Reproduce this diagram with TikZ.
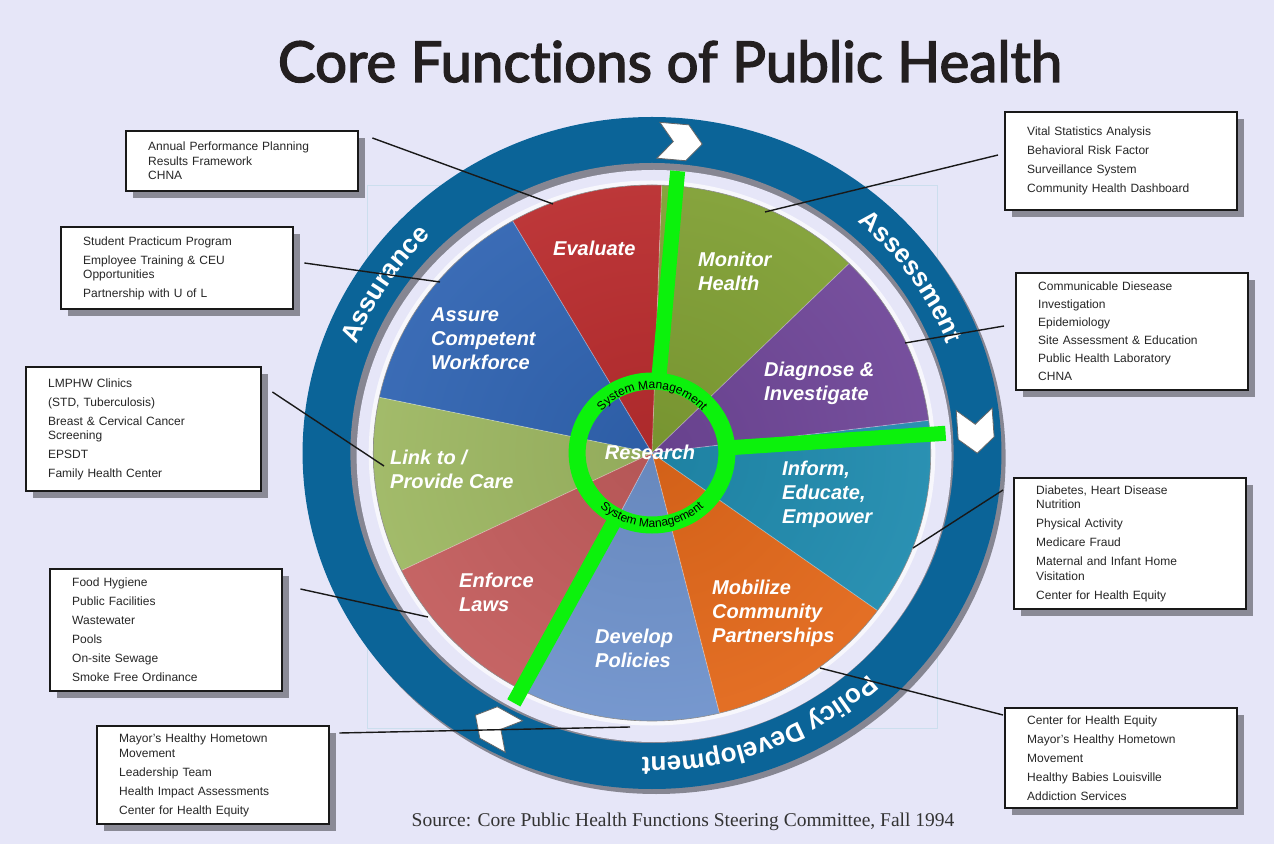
\documentclass[tikz,border=0pt]{standalone}
\usepackage{fontspec}
\setmainfont{Liberation Sans}
\newfontfamily\titlefont[Ligatures=CommonOff,FakeBold=2.5]{Lato}
\newfontfamily\sourcefont{Liberation Serif}
\usetikzlibrary{shadows, decorations.text, positioning, calc}

\definecolor{bgback}{RGB}{230,230,248}
\definecolor{ringblue}{RGB}{11,100,152}
\definecolor{ringgray}{RGB}{134,134,146}
\definecolor{spokegreen}{RGB}{12,242,12}
\definecolor{evalred}{RGB}{200,48,50}
\definecolor{monitorgreen}{RGB}{138,172,56}
\definecolor{diagpurple}{RGB}{120,76,164}
\definecolor{informteal}{RGB}{34,150,188}
\definecolor{mobilorange}{RGB}{244,112,28}
\definecolor{developblue}{RGB}{120,158,220}
\definecolor{enforcered}{RGB}{210,100,100}
\definecolor{linkgreen}{RGB}{170,198,106}
\definecolor{assureblue}{RGB}{52,108,192}
\definecolor{boxshadow}{RGB}{138,138,150}
\definecolor{frameblue}{RGB}{204,222,238}
\definecolor{titleink}{RGB}{35,31,32}

\colorlet{wedge in}{black}
\colorlet{wedge out}{white}
\pgfdeclareradialshading[wedge in,wedge out]{wedgeshade}{\pgfpoint{0bp}{0bp}}{color(0bp)=(wedge in); color(50bp)=(wedge out)}

\newcommand\boxfont{\fontsize{12}{14.5}\selectfont}
\newcommand\wedgefont{\bfseries\itshape\fontsize{20}{24}\selectfont}
\newcommand\ringstyle{\bfseries\fontsize{26}{26}\selectfont}
\newcommand\sysfont{\fontsize{12}{12}\selectfont}

\begin{document}
\begin{tikzpicture}[x=1pt,y=1pt,
  infobox/.style={draw=black!90,line width=2.4pt,fill=white,rectangle,anchor=north west,text width=188pt,inner xsep=22pt,inner ysep=0pt,align=left,font=\boxfont,text=black!85,drop shadow={shadow xshift=7pt,shadow yshift=-7pt,fill=boxshadow,opacity=1}},
  wedgelabel/.style={anchor=west,align=left,inner sep=0pt,text=white,font=\wedgefont},
  link/.style={draw=black!90,line width=1.4pt},
  ringlabel/.style={decorate,decoration={text along path,text align=center,text color=white,text={|\ringstyle|#1}}},
  syslabel/.style={decorate,decoration={text along path,text align=center,text color=black,text={|\sysfont|#1}}},
  ringarrow/.pic={\draw[fill=white,draw=black!60,line width=0.8pt] (-22,-18) -- (7,-18) -- (22,0) -- (7,18) -- (-22,18) -- (-7,0) -- cycle;}]
  \useasboundingbox (0,0) rectangle (1274,844);
  \fill[bgback] (0,0) rectangle (1274,844);
  \draw[frameblue,line width=0.7pt] (367,116) rectangle (937,659);

  % wheel
  \begin{scope}[shift={(652,391)},xscale=1.04]
    \fill[ringgray] (4,-5) circle[radius=336];
    \fill[ringblue] (0,0) circle[radius=336];
    \fill[ringgray] (0,0) circle[radius=290];
    \fill[bgback] (2,-3) circle[radius=286];
    \draw[white,line width=5pt,opacity=0.7] (0,0) circle[radius=270];
    \foreach \a/\b/\col in {45/88/monitorgreen,88/120/evalred,120/168/assureblue,168/206/linkgreen,206/243/enforcered,243/284/developblue,284/324/mobilorange,324/367/informteal,7/45/diagpurple}{
      \colorlet{wedge in}{\col!86!black}
      \colorlet{wedge out}{\col!90!white}
      \begin{scope}
        \clip (0,0) -- (\a:268) arc[start angle=\a,end angle=\b,radius=268] -- cycle;
        \shade[shading=wedgeshade] (0,0) circle[radius=268];
      \end{scope}
    }
    \foreach \a in {7,45,88,120,168,206,243,284,324}
      \draw[white,opacity=0.35,line width=0.8pt] (0,0) -- (\a:268);
    \draw[black!45,line width=0.6pt] (0,0) circle[radius=268];
    \foreach \t in {85,4,242}
      \draw[spokegreen,line width=15pt] (\t:78) -- (\t:283);
    \draw[spokegreen,line width=17pt] (0,0) circle[radius=72];
    \foreach \t in {85,4,241}
      \pic[rotate=\t-90] at (\t:312) {ringarrow};
    \path[ringlabel=Assurance] (177:304) arc[start angle=177,end angle=117,radius=304];
    \path[ringlabel=Assessment] (65:304) arc[start angle=65,end angle=5,radius=304];
    \path[ringlabel=Policy Development] (-20:304) arc[start angle=-20,end angle=-118,radius=304];
    \path[syslabel=System Management] (165:64) arc[start angle=165,end angle=15,radius=64];
    \path[syslabel=System Management] (195:74) arc[start angle=195,end angle=345,radius=74];
  \end{scope}

  \node[wedgelabel] (evaluate) at (553,596) {Evaluate};
  \node[wedgelabel] (monitor) at (698,573) {Monitor\\Health};
  \node[wedgelabel] (diagnose) at (764,461) {Diagnose \&\\Investigate};
  \node[wedgelabel] (inform) at (782,350) {Inform,\\Educate,\\Empower};
  \node[wedgelabel] (mobilize) at (712,231) {Mobilize\\Community\\Partnerships};
  \node[wedgelabel] (develop) at (595,196) {Develop\\Policies};
  \node[wedgelabel] (enforce) at (459,252) {Enforce\\Laws};
  \node[wedgelabel] (linkcare) at (390,375) {Link to /\\Provide Care};
  \node[wedgelabel] (assure) at (431,505) {Assure\\Competent\\Workforce};
  \node[text=white,font=\wedgefont] (research) at (650,392) {Research};

  \node[infobox,minimum height=60pt] (evalbox) at (125,714) {Annual Performance Planning\\Results Framework\\CHNA};
  \node[infobox,minimum height=82pt] (assurebox) at (60,618) {Student Practicum Program\\[4.5pt]Employee Training \& CEU\\Opportunities\\[4.5pt]Partnership with U of L};
  \node[infobox,minimum height=124pt,text width=191pt] (linkbox) at (25,478) {LMPHW Clinics\\[4.5pt](STD, Tuberculosis)\\[4.5pt]Breast \& Cervical Cancer\\Screening\\[4.5pt]EPSDT\\[4.5pt]Family Health Center};
  \node[infobox,minimum height=122pt] (enforcebox) at (49,276) {Food Hygiene\\[4.5pt]Public Facilities\\[4.5pt]Wastewater\\[4.5pt]Pools\\[4.5pt]On-site Sewage\\[4.5pt]Smoke Free Ordinance};
  \node[infobox,minimum height=98pt] (developbox) at (96,119) {Mayor's Healthy Hometown\\Movement\\[4.5pt]Leadership Team\\[4.5pt]Health Impact Assessments\\[4.5pt]Center for Health Equity};
  \node[infobox,minimum height=98pt] (monitorbox) at (1004,733) {Vital Statistics Analysis\\[4.5pt]Behavioral Risk Factor\\[4.5pt]Surveillance System\\[4.5pt]Community Health Dashboard};
  \node[infobox,minimum height=117pt] (diagbox) at (1015,572) {Communicable Diesease\\[3.5pt]Investigation\\[3.5pt]Epidemiology\\[3.5pt]Site Assessment \& Education\\[3.5pt]Public Health Laboratory\\[3.5pt]CHNA};
  \node[infobox,minimum height=131pt] (informbox) at (1013,367) {Diabetes, Heart Disease\\Nutrition\\[4.5pt]Physical Activity\\[4.5pt]Medicare Fraud\\[4.5pt]Maternal and Infant Home\\Visitation\\[4.5pt]Center for Health Equity};
  \node[infobox,minimum height=100pt] (mobilbox) at (1004,137) {Center for Health Equity\\[4.5pt]Mayor's Healthy Hometown\\[4.5pt]Movement\\[4.5pt]Healthy Babies Louisville\\[4.5pt]Addiction Services};

  \coordinate (evalpt) at (553,640);
  \coordinate (assurept) at (440,562);
  \coordinate (linkpt) at (384,378);
  \coordinate (enforcept) at (428,227);
  \coordinate (developpt) at (630,117);
  \coordinate (monitorpt) at (765,632);
  \coordinate (diagpt) at (905,501);
  \coordinate (informpt) at (913,296);
  \coordinate (mobilpt) at (820,176);
  \draw[link] ([shift={(13,-8)}]evalbox.north east) -- (evalpt);
  \draw[link] ([shift={(10,-37)}]assurebox.north east) -- (assurept);
  \draw[link] ([shift={(10,-26)}]linkbox.north east) -- (linkpt);
  \draw[link] ([shift={(17,-21)}]enforcebox.north east) -- (enforcept);
  \draw[link] ([shift={(9,-8)}]developbox.north east) -- (developpt);
  \draw[link] ([shift={(-6,-44)}]monitorbox.north west) -- (monitorpt);
  \draw[link] ([shift={(-11,-54)}]diagbox.north west) -- (diagpt);
  \draw[link] ([shift={(-10,-13)}]informbox.north west) -- (informpt);
  \draw[link] ([shift={(-1,-8)}]mobilbox.north west) -- (mobilpt);

  \node[anchor=base,text=titleink,inner sep=0pt] (title) at (670,762) {\resizebox{784pt}{!}{\titlefont Core Functions of Public Health}};
  \node[anchor=base,text=black!80,inner sep=0pt,font=\sourcefont\fontsize{19.5}{22}\selectfont] (source) at (683,18) {Source: Core Public Health Functions Steering Committee, Fall 1994};
\end{tikzpicture}
\end{document}
